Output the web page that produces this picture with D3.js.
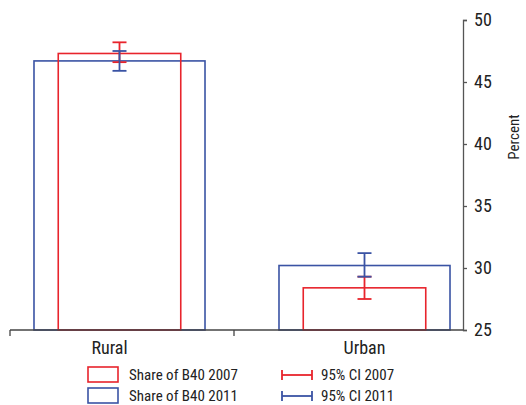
<!DOCTYPE html>
<html>
<head>
<meta charset="utf-8">
<script src="https://cdn.jsdelivr.net/npm/d3@7"></script>
<style>
  body { margin: 0; background: #fff; }
  text { font-family: "Liberation Sans Narrow", "Roboto Condensed", "DejaVu Sans Condensed", sans-serif; fill: #222; }
</style>
</head>
<body>
<svg width="526" height="405"></svg>
<script>
var categories = ["Rural", "Urban"];
var years = ["2007", "2011"];
var share2007 = [47.3, 28.4];
var share2011 = [46.7, 30.2];
var ciLow2007 = [46.6, 27.5];
var ciHigh2007 = [48.2, 29.3];
var ciLow2011 = [45.9, 29.3];
var ciHigh2011 = [47.5, 31.2];
var yTicks = [25, 30, 35, 40, 45, 50];

var red = "#e8242c", blue = "#3a53a4";

var svg = d3.select("svg");

var x = d3.scaleBand().domain(categories).range([-3, 487]);
var y = d3.scaleLinear().domain([25, 50]).range([330, 20]);

var series = [
  { year: "2011", color: blue, vals: share2011, lo: ciLow2011, hi: ciHigh2011, frac: 0.698 },
  { year: "2007", color: red, vals: share2007, lo: ciLow2007, hi: ciHigh2007, frac: 0.5 }
];

// bars (blue wide behind, red narrow in front)
series.forEach(function(s) {
  svg.append("g").selectAll("rect")
    .data(categories)
    .enter().append("rect")
      .attr("x", function(d) { return x(d) + x.bandwidth() * (1 - s.frac) / 2; })
      .attr("width", x.bandwidth() * s.frac)
      .attr("y", function(d, i) { return y(s.vals[i]); })
      .attr("height", function(d, i) { return y(25) - y(s.vals[i]); })
      .attr("fill", "none")
      .attr("stroke", s.color)
      .attr("stroke-width", 1.6);
});

// error bars
[series[1], series[0]].forEach(function(s) {
  var g = svg.append("g").selectAll("g")
    .data(categories)
    .enter().append("g")
      .attr("transform", function(d) { return "translate(" + (x(d) + x.bandwidth() / 2) + ",0)"; })
      .attr("stroke", s.color)
      .attr("stroke-width", 1.8);
  g.append("line")
    .attr("y1", function(d, i) { return y(s.lo[i]); })
    .attr("y2", function(d, i) { return y(s.hi[i]); });
  g.append("line").attr("x1", -7).attr("x2", 7)
    .attr("y1", function(d, i) { return y(s.lo[i]); })
    .attr("y2", function(d, i) { return y(s.lo[i]); });
  g.append("line").attr("x1", -7).attr("x2", 7)
    .attr("y1", function(d, i) { return y(s.hi[i]); })
    .attr("y2", function(d, i) { return y(s.hi[i]); });
});

// y axis on the right
var yAxis = svg.append("g")
  .attr("transform", "translate(463,0)")
  .call(d3.axisRight(y).tickValues(yTicks).tickSize(4).tickPadding(7));
yAxis.select(".domain").attr("stroke", "#555").attr("stroke-width", 1.3);
yAxis.selectAll(".tick line").attr("stroke", "#555").attr("stroke-width", 1.3);
yAxis.selectAll("text").style("font-size", "18px").attr("fill", "#222")
  .style("font-family", "'Liberation Sans Narrow', 'Roboto Condensed', sans-serif");

svg.append("text")
  .attr("transform", "translate(519,137) rotate(-90)")
  .attr("text-anchor", "middle")
  .style("font-size", "15px")
  .text("Percent");

// x axis
var xa = svg.append("g");
xa.append("line").attr("x1", 10).attr("x2", 463).attr("y1", 330).attr("y2", 330)
  .attr("stroke", "#444").attr("stroke-width", 1.3);
[10, 234].forEach(function(t) {
  xa.append("line").attr("x1", t).attr("x2", t).attr("y1", 330).attr("y2", 336)
    .attr("stroke", "#444").attr("stroke-width", 1.3);
});
xa.selectAll("text.cat")
  .data(categories)
  .enter().append("text")
    .attr("class", "cat")
    .attr("x", function(d, i) { return x(d) + x.bandwidth() / 2 - (i === 0 ? 10 : 0); })
    .attr("y", 354)
    .attr("text-anchor", "middle")
    .style("font-size", "18px")
    .text(function(d) { return d; });

// legend
var legend = svg.append("g");
[series[1], series[0]].forEach(function(s, i) {
  var yy = 375 + i * 21;
  legend.append("rect").attr("x", 88).attr("y", yy - 8).attr("width", 30).attr("height", 15)
    .attr("fill", "none").attr("stroke", s.color).attr("stroke-width", 1.6);
  legend.append("text").attr("x", 129).attr("y", yy + 5).style("font-size", "15px")
    .text("Share of B40 " + s.year);
  legend.append("line").attr("x1", 282).attr("x2", 312).attr("y1", yy).attr("y2", yy)
    .attr("stroke", s.color).attr("stroke-width", 1.8);
  [282, 312].forEach(function(cx) {
    legend.append("line").attr("x1", cx).attr("x2", cx).attr("y1", yy - 5).attr("y2", yy + 5)
      .attr("stroke", s.color).attr("stroke-width", 1.8);
  });
  legend.append("text").attr("x", 321).attr("y", yy + 5).style("font-size", "15px")
    .text("95% CI " + s.year);
});
</script>
</body>
</html>
